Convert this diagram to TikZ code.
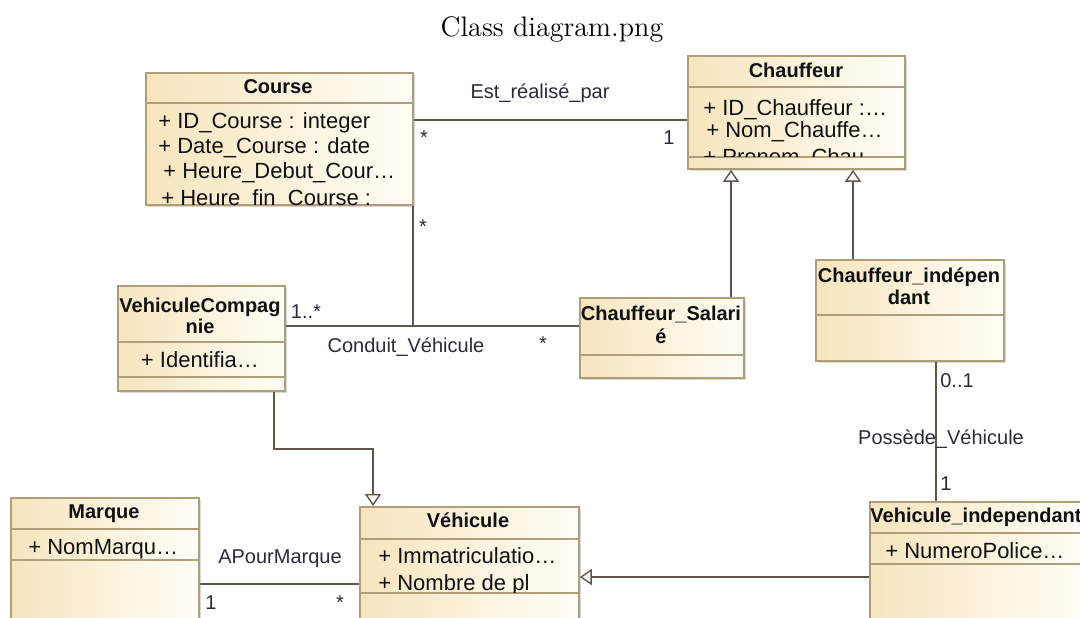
\documentclass[tikz,border=0pt]{standalone}
\usepackage{fontspec}
\newfontfamily\ar{Liberation Sans}
\usetikzlibrary{arrows.meta,shadows}
\definecolor{boxL}{HTML}{F6E5BD}
\definecolor{boxR}{HTML}{FFFEF8}
\definecolor{boxB}{HTML}{B09E78}
\definecolor{lineC}{HTML}{5E5749}
\definecolor{txt}{HTML}{111111}
\definecolor{lbl}{HTML}{2B2B38}
\tikzset{
 cls/.style={draw=boxB, line width=0.9pt, left color=boxL, right color=boxR, inner sep=0pt, anchor=north west,
   drop shadow={shadow xshift=0.9pt, shadow yshift=-0.9pt, opacity=0.3}},
 hdr/.style={font=\ar\bfseries\fontsize{10}{12}\selectfont, text=txt, inner sep=0pt, anchor=base},
 attr/.style={font=\ar\fontsize{11}{13}\selectfont, text=txt, inner sep=0pt, anchor=base west},
 attrc/.style={font=\ar\fontsize{11}{13}\selectfont, text=txt, inner sep=0pt, anchor=base},
 lab/.style={font=\ar\fontsize{10}{12}\selectfont, text=lbl, inner sep=0pt, anchor=base},
 div/.style={draw=boxB, line width=0.9pt},
 conn/.style={draw=lineC, line width=0.7pt},
 gen/.style={conn, -{Triangle[open, width=8pt, length=6pt, fill=white]}},
}
\begin{document}
\begin{tikzpicture}[x=0.5pt,y=-0.5pt]
\useasboundingbox (0,0) rectangle (1080,617);
\clip (0,0) rectangle (1080,617);
\fill[white] (0,0) rectangle (1080,617);

% title
\node[font=\fontsize{14.1}{17}\selectfont, inner sep=0pt, anchor=base] (title) at (552,36) {Class diagram.png};

% helper coordinates
\coordinate (x413) at (413,0);
\coordinate (x731) at (731,0);
\coordinate (x853) at (853,0);
\coordinate (x936) at (936,0);
\coordinate (x274) at (274,0);
\coordinate (x373) at (373,0);
\coordinate (y120) at (0,120);
\coordinate (y577) at (0,577);
\coordinate (y584) at (0,584);
\coordinate (j1) at (413,326);
\coordinate (b1) at (274,449);
\coordinate (b2) at (373,449);

% ---------- class boxes ----------
\node[cls, minimum width=133.5pt, minimum height=66pt] (course) at (145,72) {};
\node[cls, minimum width=108.5pt, minimum height=56.5pt] (chauf) at (687,55) {};
\node[cls, minimum width=83.5pt, minimum height=52.5pt] (vc) at (117,285) {};
\node[cls, minimum width=82pt, minimum height=40pt] (sal) at (579,297) {};
\node[cls, minimum width=94pt, minimum height=50.5pt] (ci) at (815,259) {};
\node[cls, minimum width=108pt, minimum height=69.5pt] (vi) at (869,501) {};
\node[cls, minimum width=94pt, minimum height=71.5pt] (marque) at (10,497) {};
\node[cls, minimum width=109.5pt, minimum height=67pt] (veh) at (359,506) {};

% dividers
\draw[div] (course.west |- 0,103) -- (course.east |- 0,103);
\draw[div] (chauf.west |- 0,87) -- (chauf.east |- 0,87);
\draw[div] (chauf.west |- 0,157) -- (chauf.east |- 0,157);
\draw[div] (vc.west |- 0,342) -- (vc.east |- 0,342);
\draw[div] (vc.west |- 0,377) -- (vc.east |- 0,377);
\draw[div] (sal.west |- 0,355) -- (sal.east |- 0,355);
\draw[div] (ci.west |- 0,315) -- (ci.east |- 0,315);
\draw[div] (vi.west |- 0,533) -- (vi.east |- 0,533);
\draw[div] (vi.west |- 0,564) -- (vi.east |- 0,564);
\draw[div] (marque.west |- 0,529) -- (marque.east |- 0,529);
\draw[div] (marque.west |- 0,560) -- (marque.east |- 0,560);
\draw[div] (veh.west |- 0,539) -- (veh.east |- 0,539);
\draw[div] (veh.west |- 0,593) -- (veh.east |- 0,593);

% headers
\node[hdr] (courseT) at (278,93) {Course};
\node[hdr] (chaufT) at (796,77) {Chauffeur};
\node[hdr] (vcT1) at (200,312) {VehiculeCompag};
\node[hdr] (vcT2) at (200,333) {nie};
\node[hdr] (salT1) at (661,320) {Chauffeur\_Salari};
\node[hdr] (salT2) at (661,343) {é};
\node[hdr] (ciT1) at (909,282) {Chauffeur\_indépen};
\node[hdr] (ciT2) at (909,304) {dant};
\node[hdr] (viT) at (976,522) {Vehicule\_independant};
\node[hdr] (marqueT) at (104,518) {Marque};
\node[hdr] (vehT) at (468,527) {Véhicule};

% attributes
\begin{scope}
\clip (course.west |- 0,104) rectangle (course.south east);
\node[attr] (ca1) at (158,128) {+ ID\_Course : integer};
\node[attr] (ca2) at (158,153) {+ Date\_Course : date};
\node[attr] (ca3) at (163,178) {+ Heure\_Debut\_Cour…};
\node[attr] (ca4) at (161,205) {+ Heure\_fin\_Course :};
\end{scope}
\begin{scope}
\clip (chauf.west |- 0,88) rectangle (chauf.east |- 0,156);
\node[attr] (ha1) at (703,115) {+ ID\_Chauffeur :…};
\node[attr] (ha2) at (706,137) {+ Nom\_Chauffe…};
\node[attr] (ha3) at (703,164) {+ Prenom\_Chau…};
\end{scope}
\node[attrc] (vca1) at (200,367) {+ Identifia…};
\node[attr] (via1) at (885,558) {+ NumeroPolice…};
\node[attr] (ma1) at (28,554) {+ NomMarqu…};
\begin{scope}
\clip (veh.west |- 0,540) rectangle (veh.east |- 0,592);
\node[attr] (va1) at (378,563) {+ Immatriculatio…};
\node[attr] (va2) at (378,590) {+ Nombre de pl};
\end{scope}

% ---------- connectors ----------
\draw[conn] (course.east |- y120) -- (chauf.west |- y120);
\draw[conn] (course.south -| x413) -- (j1);
\draw[conn] (vc.east |- j1) -- (sal.west |- j1);
\draw[gen] (sal.north -| x731) -- (chauf.south -| x731);
\draw[gen] (ci.north -| x853) -- (chauf.south -| x853);
\draw[conn] (ci.south -| x936) -- (vi.north -| x936);
\draw[gen] (vc.south -| x274) -- (b1) -- (b2) -- (veh.north -| x373);
\draw[gen] (vi.west |- y577) -- (veh.east |- y577);
\draw[conn] (marque.east |- y584) -- (veh.west |- y584);

% ---------- labels ----------
\node[lab] (l1) at (540,98) {Est\_réalisé\_par};
\node[lab] (m1) at (424,144) {*};
\node[lab] (m2) at (669,144) {1};
\node[lab] (m3) at (423,233) {*};
\node[lab] (m4) at (306,318) {1..*};
\node[lab] (l2) at (406,352) {Conduit\_Véhicule};
\node[lab] (m5) at (543,350) {*};
\node[lab] (m6) at (957,387) {0..1};
\node[lab] (l3) at (941,444) {Possède\_Véhicule};
\node[lab] (m7) at (946,490) {1};
\node[lab] (l4) at (280,563) {APourMarque};
\node[lab] (m8) at (211,609) {1};
\node[lab] (m9) at (340,609) {*};
\end{tikzpicture}
\end{document}
